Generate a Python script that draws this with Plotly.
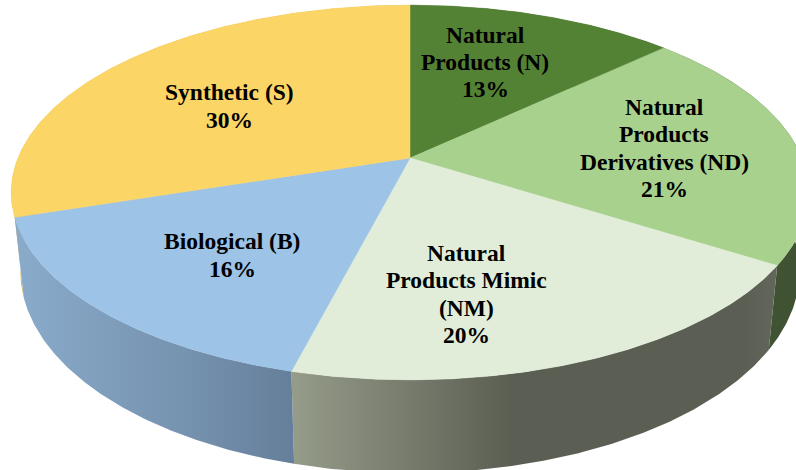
import numpy as np
import plotly.graph_objects as go

categories = ["Natural Products (N)", "Natural Products Derivatives (ND)",
              "Natural Products Mimic (NM)", "Biological (B)", "Synthetic (S)"]
values = [13, 21, 20, 16, 30]
label_lines = [["Natural", "Products (N)", "13%"],
               ["Natural", "Products", "Derivatives (ND)", "21%"],
               ["Natural", "Products Mimic", "(NM)", "20%"],
               ["Biological (B)", "16%"],
               ["Synthetic (S)", "30%"]]
label_pos = [(485, 62), (664, 148), (466, 294), (232, 255), (229, 106)]
top_colors = ["#548235", "#A9D18E", "#E1EDD9", "#9DC3E6", "#FBD565"]
wall_scales = [
    [[0, "#3f5430"], [1, "#3f5430"]],
    [[0, "#425435"], [1, "#3f5232"]],
    [[0, "#969c8a"], [0.45, "#5b5f53"], [0.93, "#5b5f53"], [1, "#63665b"]],
    [[0, "#8aabcb"], [0.6, "#7693b0"], [1, "#657e9a"]],
    [[0, "#d8b458"], [1, "#d8b458"]],
]
wall_order = [4, 0, 1, 2, 3]

CX = 410.0
K = 0.184
LINE_GAP = 27.2
TOP = dict(a=392.0, b=181.0, y0=158.0)
LOW = dict(a=383.0, b=195.0, y0=234.0)


def project(theta, g):
    u, v = np.sin(theta), np.cos(theta)
    w = 1 + K * v
    return CX + g["a"] * u / w, g["y0"] - g["b"] * v / w


edges = 2 * np.pi * np.cumsum([0] + values) / sum(values)
fig = go.Figure()
slices = list(zip(categories, edges[:-1], edges[1:]))

for i in wall_order:
    name, a0, a1 = slices[i]
    t = np.linspace(a0, a1, 160)
    xt, yt = project(t, TOP)
    xl, yl = project(t[::-1], LOW)
    fig.add_trace(go.Scatter(
        x=np.r_[xt, xl, xt[0]], y=np.r_[yt, yl, yt[0]], mode="lines",
        line=dict(width=0), fill="toself", name=name, hoverinfo="skip",
        fillgradient=dict(type="horizontal", colorscale=wall_scales[i])))

for (name, a0, a1), color in zip(slices, top_colors):
    t = np.linspace(a0, a1, 160)
    x, y = project(t, TOP)
    fig.add_trace(go.Scatter(
        x=np.r_[CX, x, CX], y=np.r_[TOP["y0"], y, TOP["y0"]], mode="lines",
        line=dict(width=0.5, color=color), fill="toself", fillcolor=color,
        name=name, hoverinfo="skip"))

for lines, (lx, ly) in zip(label_lines, label_pos):
    for j, text in enumerate(lines):
        fig.add_annotation(x=lx, y=ly + (j - (len(lines) - 1) / 2) * LINE_GAP,
                           text=text, showarrow=False, align="center",
                           font=dict(family="Liberation Serif", size=23.5,
                                     color="#000000", weight="bold"))

fig.update_layout(
    width=796, height=470, margin=dict(l=0, r=0, t=0, b=0), showlegend=False,
    paper_bgcolor="white", plot_bgcolor="white",
    xaxis=dict(range=[0, 796], visible=False, fixedrange=True),
    yaxis=dict(range=[470, 0], visible=False, fixedrange=True),
)
fig.write_html("out.html", config={"displayModeBar": False},
               post_script="document.body.style.margin='0';document.body.style.overflow='hidden';")
